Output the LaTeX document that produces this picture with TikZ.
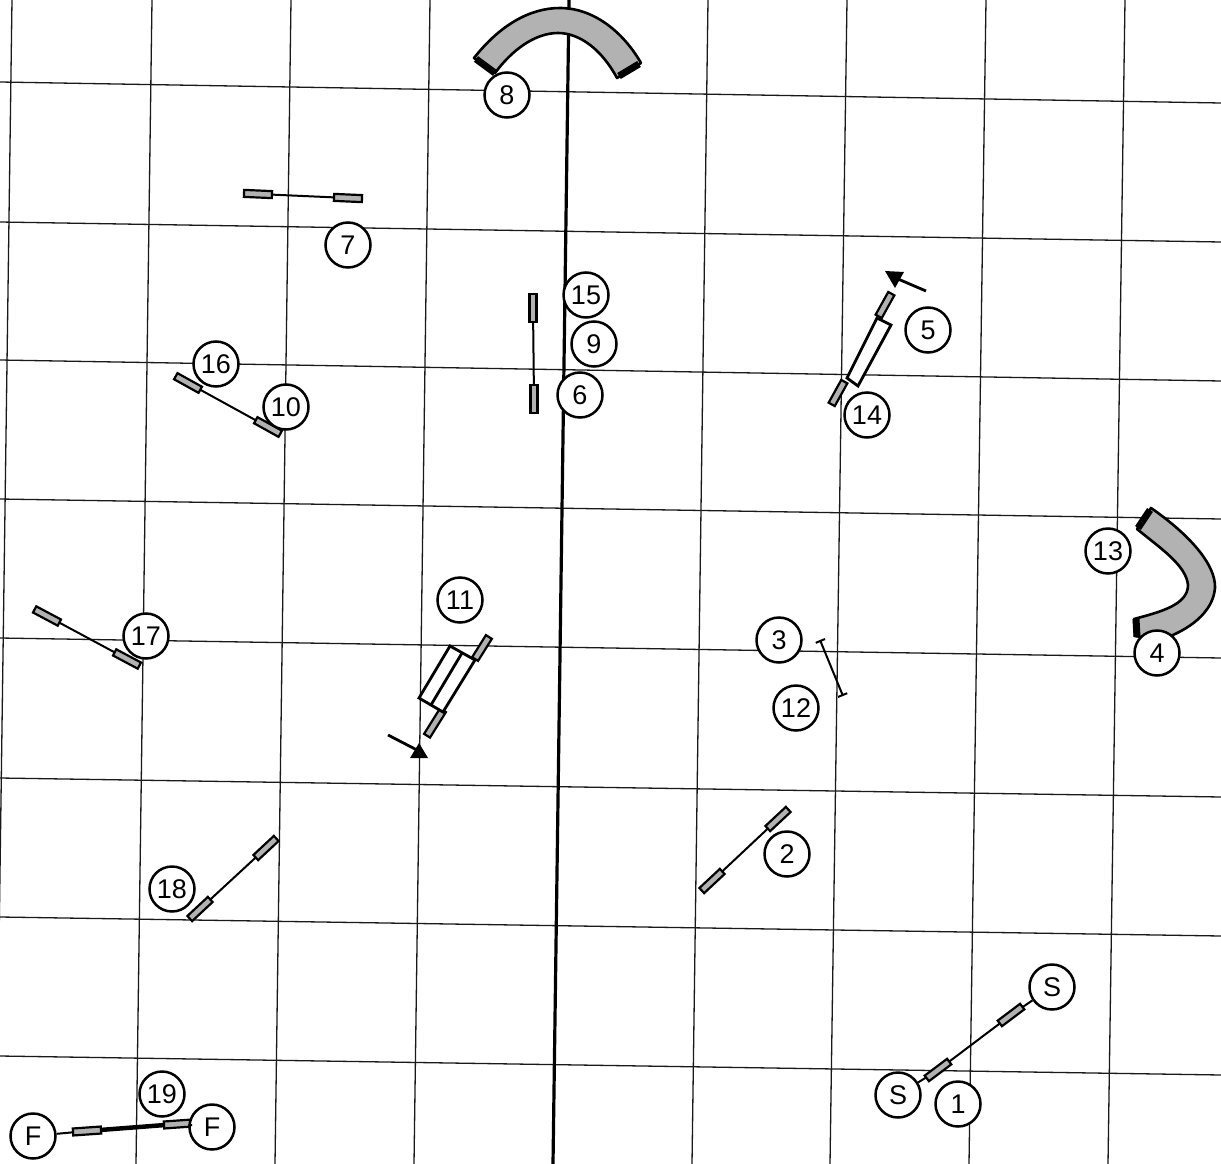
\documentclass[tikz,border=0pt]{standalone}
\usepackage{fontspec}
\setmainfont{Liberation Sans}
\usetikzlibrary{arrows.meta}
\tikzset{
  gridline/.style={line width=1.3pt,black!90},
  centreline/.style={line width=3.2pt,black},
  num/.style={circle,draw,fill=white,line width=2.5pt,minimum size=45pt,inner sep=0pt,font=\fontsize{27}{27}\selectfont},
  bar/.style={rectangle,draw,fill=black!30,line width=2.2pt,minimum width=28pt,minimum height=7pt,inner sep=0pt,outer sep=0pt},
  pole/.style={line width=2pt},
  thickpole/.style={line width=4.5pt},
  tunnel/.style={fill=black!30,draw,line width=2.6pt,line join=round},
  tunnelend/.style={line width=7pt},
  contact/.style={draw,line width=2.8pt,line join=miter,fill=white},
  pointer/.style={line width=2.8pt},
  head/.style={fill=black,draw=none},
  tbar/.style={line width=2pt,{Bar[width=10pt]}-{Bar[width=10pt]}}
}
\begin{document}
\begin{tikzpicture}[x=1pt,y=-1pt]
\useasboundingbox[fill=white] (0,0) rectangle (1221,1164);
\begin{scope}
\clip (0,0) rectangle (1221,1164);
% grid
\foreach \a/\b in {82/103,222/242,360/381,499/519,638/658,778/797,917/936,1056/1075}
  \draw[gridline] (0,\a) -- (1221,\b);
\foreach \a/\b in {12/-4,152/136,291/275,430/414,708/692,847/830,986/969,1125/1108}
  \draw[gridline] (\a,0) -- (\b,1164);
\draw[centreline] (569,0) -- (553,1164);

% tunnels
\draw[tunnel] (474,58) .. controls (500,25) and (530,8) .. (560,8) .. controls (592,8) and (622,30) .. (641,63)
  -- (617,78) .. controls (602,50) and (580,33) .. (558,33) .. controls (535,33) and (512,50) .. (495,73) -- cycle;
\draw[tunnelend] (476,59) -- (495,73);
\draw[tunnelend] (639,64) -- (619,76);
\draw[tunnel] (1151,508) .. controls (1190,535) and (1216,565) .. (1215,588) .. controls (1213,612) and (1190,630) .. (1160,640)
  -- (1135,636) -- (1134,619) .. controls (1160,612) and (1188,605) .. (1188,585) .. controls (1186,565) and (1160,548) .. (1137,529) -- cycle;
\draw[tunnelend] (1150,510) -- (1138,528);
\draw[tunnelend] (1136,619) -- (1137,637);

% jumps
\node[bar,rotate=-2.5] (j7a) at (258,194) {};
\node[bar,rotate=-2.5] (j7b) at (348,198) {};
\draw[pole] (j7a) -- (j7b);
\node[bar,rotate=43] (j2a) at (712,881) {};
\node[bar,rotate=43] (j2b) at (778,819) {};
\draw[pole] (j2a) -- (j2b);
\node[bar,rotate=43] (j18a) at (200,909) {};
\node[bar,rotate=43] (j18b) at (266,848) {};
\draw[pole] (j18a) -- (j18b);
\node[bar,rotate=-29] (j10a) at (188,383) {};
\node[bar,rotate=-29] (j10b) at (268,427) {};
\draw[pole] (j10a) -- (j10b);
\node[bar,rotate=-28] (j17a) at (47,616) {};
\node[bar,rotate=-28] (j17b) at (127,659) {};
\draw[pole] (j17a) -- (j17b);
\node[bar,rotate=90] (j6a) at (533,308) {};
\node[bar,rotate=90] (j6b) at (534,399) {};
\draw[pole] (j6a) -- (j6b);
\node[bar,rotate=37] (js1) at (938,1070) {};
\node[bar,rotate=37] (js2) at (1011,1015) {};
\node[bar,rotate=4] (jf1) at (87,1131) {};
\node[bar,rotate=4] (jf2) at (178,1124) {};

% small jump 3/12
\coordinate (t3) at (820,640);
\coordinate (t12) at (843,696);
\draw[tbar] (t3) -- (t12);

% tyre 11
\node[bar,rotate=58,minimum width=26pt] (w11a) at (482,648) {};
\node[bar,rotate=58,minimum width=30pt] (w11b) at (435,723) {};
\draw[contact] (450,646) -- (475,660) -- (443,712) -- (419,698) -- cycle;
\draw[pole,line width=2.8pt] (462,653) -- (431,705);
\coordinate (p11a) at (388,735);
\coordinate (p11b) at (417,750);
\draw[pointer] (p11a) -- (p11b);
\fill[head] (419,743) -- (410,758) -- (428,758) -- cycle;

% tyre 14
\node[bar,rotate=61,minimum width=26pt] (w14a) at (885,305) {};
\node[bar,rotate=61,minimum width=26pt] (w14b) at (838,393) {};
\draw[contact] (877,318) -- (891,325) -- (858,386) -- (847,378) -- cycle;
\coordinate (p14a) at (926,291);
\coordinate (p14b) at (898,279);
\draw[pointer] (p14a) -- (p14b);
\fill[head] (885,271) -- (904,272) -- (895,288) -- cycle;

% numbers
\node[num] (n8) at (507,95) {8};
\node[num] (n7) at (348,245) {7};
\node[num] (n15) at (586,295) {15};
\node[num] (n9) at (594,344) {9};
\node[num] (n6) at (580,395) {6};
\node[num] (n16) at (216,364) {16};
\node[num] (n10) at (286,407) {10};
\node[num] (n5) at (928,330) {5};
\node[num] (n14) at (867,415) {14};
\node[num] (n13) at (1108,551) {13};
\node[num] (n4) at (1157,653) {4};
\node[num] (n11) at (460,600) {11};
\node[num] (n3) at (779,640) {3};
\node[num] (n12) at (796,708) {12};
\node[num] (n17) at (146,636) {17};
\node[num] (n2) at (787,854) {2};
\node[num] (n18) at (172,889) {18};
\node[num] (ns1) at (1052,987) {S};
\node[num] (ns2) at (898,1095) {S};
\node[num] (n1) at (958,1104) {1};
\node[num] (n19) at (162,1094) {19};
\node[num] (nf1) at (33,1136) {F};
\node[num] (nf2) at (212,1127) {F};

% start and finish lines
\draw[pole] (ns1) -- (js2);
\draw[pole] (js2) -- (js1);
\draw[pole] (js1) -- (ns2);
\draw[pole] (nf1) -- (jf1);
\draw[thickpole] (jf1) -- (jf2);
\draw[pole] (jf2) -- (nf2);
\end{scope}
\end{tikzpicture}
\end{document}
